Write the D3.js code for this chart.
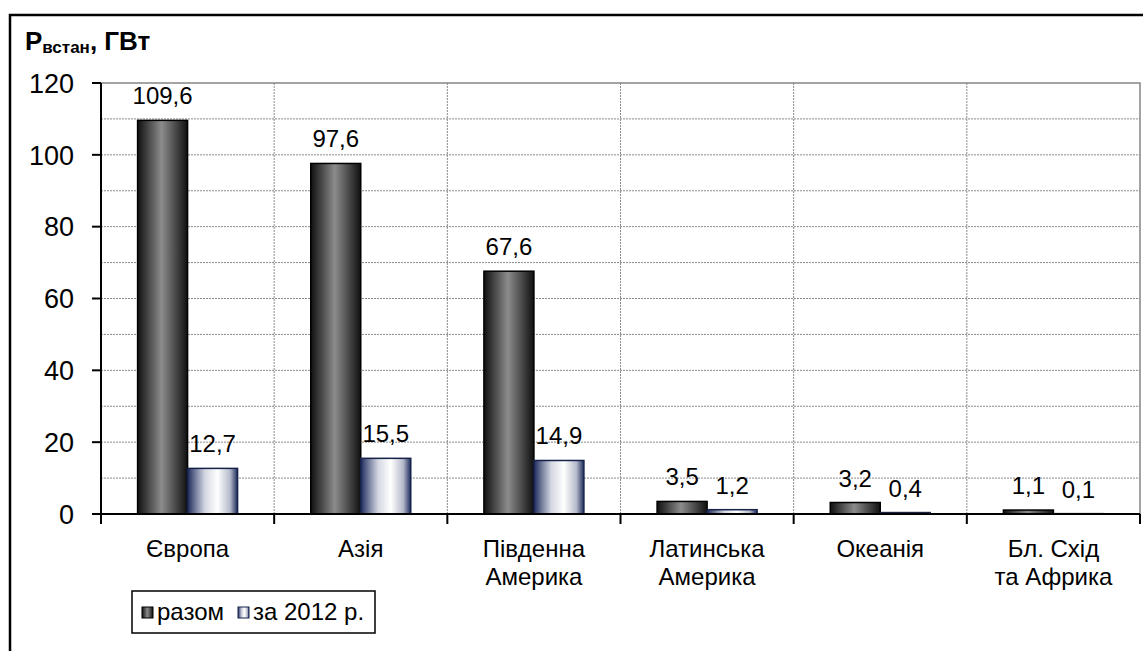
<!DOCTYPE html>
<html>
<head>
<meta charset="utf-8">
<script src="https://cdn.jsdelivr.net/npm/d3@7"></script>
<style>
  body { margin: 0; background: #fff; }
  svg { font-family: Arial, "Liberation Sans", sans-serif; }
</style>
</head>
<body>
<svg id="chart" width="1143" height="651"></svg>
<script>
// chart data
const categories = [['Європа'], ['Азія'], ['Південна', 'Америка'], ['Латинська', 'Америка'], ['Океанія'], ['Бл. Схід', 'та Африка']]
const seriesNames = ['разом', 'за 2012 р.']
const totalValues = [109.6, 97.6, 67.6, 3.5, 3.2, 1.1]
const yearValues = [12.7, 15.5, 14.9, 1.2, 0.4, 0.1]
const yTicks = [0, 20, 40, 60, 80, 100, 120]
const yGrid = [10, 20, 30, 40, 50, 60, 70, 80, 90, 100, 110]

const fmt = v => String(v).replace('.', ',')

const svg = d3.select('#chart')
const plotL = 101, plotR = 1140, plotT = 83, plotB = 514
const gridColor = '#8a8a8a'

// gradients
const defs = svg.append('defs')
const addGrad = (id, stops) => {
  const g = defs.append('linearGradient').attr('id', id)
    .attr('x1', 0).attr('x2', 1).attr('y1', 0).attr('y2', 0)
  stops.forEach(([o, c]) => g.append('stop').attr('offset', o).attr('stop-color', c))
}
addGrad('gDark', [[0, '#101010'], [0.48, '#8c8c8c'], [1, '#101010']])
addGrad('gLight', [[0, '#1d2b5c'], [0.15, '#6f7898'], [0.35, '#d5d8e2'], [0.6, '#ffffff'], [0.85, '#b5bacb'], [1, '#1d2b5c']])

// outer frame
svg.append('rect')
  .attr('x', 10).attr('y', 15).attr('width', 1160).attr('height', 700)
  .attr('fill', 'none').attr('stroke', '#000').attr('stroke-width', 2.5)

const x = d3.scaleBand().domain(d3.range(categories.length)).range([plotL, plotR]).padding(0)
const groupW = 100
const xs = d3.scaleBand().domain([0, 1]).range([0, groupW]).padding(0)
const y = d3.scaleLinear().domain([0, 120]).range([plotB, plotT])

// grid
svg.append('g').selectAll('line').data(yGrid).join('line')
  .attr('x1', plotL).attr('x2', plotR)
  .attr('y1', d => y(d)).attr('y2', d => y(d))
  .attr('stroke', gridColor).attr('stroke-dasharray', '2,1')
svg.append('g').selectAll('line').data(d3.range(1, categories.length)).join('line')
  .attr('x1', d => x(d)).attr('x2', d => x(d))
  .attr('y1', plotT).attr('y2', plotB)
  .attr('stroke', gridColor).attr('stroke-dasharray', '2,1')

// plot border (top, right)
svg.append('path')
  .attr('d', `M${plotL},${y(120)}H${plotR}V${plotB}`)
  .attr('fill', 'none').attr('stroke', '#858585').attr('stroke-width', 1.5)

// bars
const series = [totalValues, yearValues]
const fills = ['url(#gDark)', 'url(#gLight)']
const strokes = ['#000', '#17224a']
series.forEach((vals, s) => {
  const offset = (x.bandwidth() - groupW) / 2
  svg.append('g').selectAll('rect').data(vals).join('rect')
    .attr('x', (d, i) => x(i) + offset + xs(s))
    .attr('width', xs.bandwidth())
    .attr('y', d => y(d))
    .attr('height', d => y(0) - y(d))
    .attr('fill', fills[s]).attr('stroke', strokes[s]).attr('stroke-width', 1.5)
  svg.append('g').selectAll('text').data(vals).join('text')
    .attr('x', (d, i) => x(i) + offset + xs(s) + xs.bandwidth() / 2)
    .attr('y', d => y(d) - 16)
    .attr('text-anchor', 'middle')
    .attr('font-size', 24)
    .text(fmt)
})

// y axis
const yAxis = svg.append('g')
yAxis.append('line').attr('x1', plotL).attr('x2', plotL).attr('y1', plotT).attr('y2', plotB)
  .attr('stroke', '#000').attr('stroke-width', 2)
yAxis.selectAll('line.t').data(yTicks).join('line')
  .attr('class', 't')
  .attr('x1', plotL - 9).attr('x2', plotL)
  .attr('y1', d => y(d)).attr('y2', d => y(d))
  .attr('stroke', '#000').attr('stroke-width', 2)
yAxis.selectAll('text').data(yTicks).join('text')
  .attr('x', 74).attr('y', d => y(d))
  .attr('dy', '0.36em')
  .attr('text-anchor', 'end')
  .attr('font-size', 27)
  .text(d => d)

// x axis
const xAxis = svg.append('g')
xAxis.append('line').attr('x1', plotL - 9).attr('x2', plotR).attr('y1', plotB).attr('y2', plotB)
  .attr('stroke', '#000').attr('stroke-width', 2)
xAxis.selectAll('line.t').data(d3.range(categories.length + 1)).join('line')
  .attr('class', 't')
  .attr('x1', d => plotL + d * x.bandwidth()).attr('x2', d => plotL + d * x.bandwidth())
  .attr('y1', plotB).attr('y2', plotB + 10)
  .attr('stroke', '#000').attr('stroke-width', 2)
const catText = xAxis.selectAll('text').data(categories).join('text')
  .attr('text-anchor', 'middle')
  .attr('font-size', 24)
catText.selectAll('tspan').data((d, i) => d.map(t => ({ t, i }))).join('tspan')
  .attr('x', d => x(d.i) + x.bandwidth() / 2)
  .attr('y', (d, j) => 557 + j * 28)
  .text(d => d.t)

// axis title
const title = svg.append('text').attr('x', 25).attr('y', 50)
  .attr('font-weight', 'bold').attr('font-size', 26)
title.append('tspan').text('Р')
title.append('tspan').attr('font-size', 17).attr('dy', 3).text('встан')
title.append('tspan').attr('dy', -3).text(', ГВт')

// legend
const lg = svg.append('g')
lg.append('rect').attr('x', 132).attr('y', 591).attr('width', 243).attr('height', 42)
  .attr('fill', '#fff').attr('stroke', '#000').attr('stroke-width', 1.5)
const lgX = [142, 238]
seriesNames.forEach((n, s) => {
  lg.append('rect').attr('x', lgX[s]).attr('y', 607).attr('width', 11).attr('height', 11)
    .attr('fill', fills[s]).attr('stroke', strokes[s]).attr('stroke-width', 1)
  lg.append('text').attr('x', lgX[s] + 15).attr('y', 620)
    .attr('font-size', 24).text(n)
})
</script>
</body>
</html>
